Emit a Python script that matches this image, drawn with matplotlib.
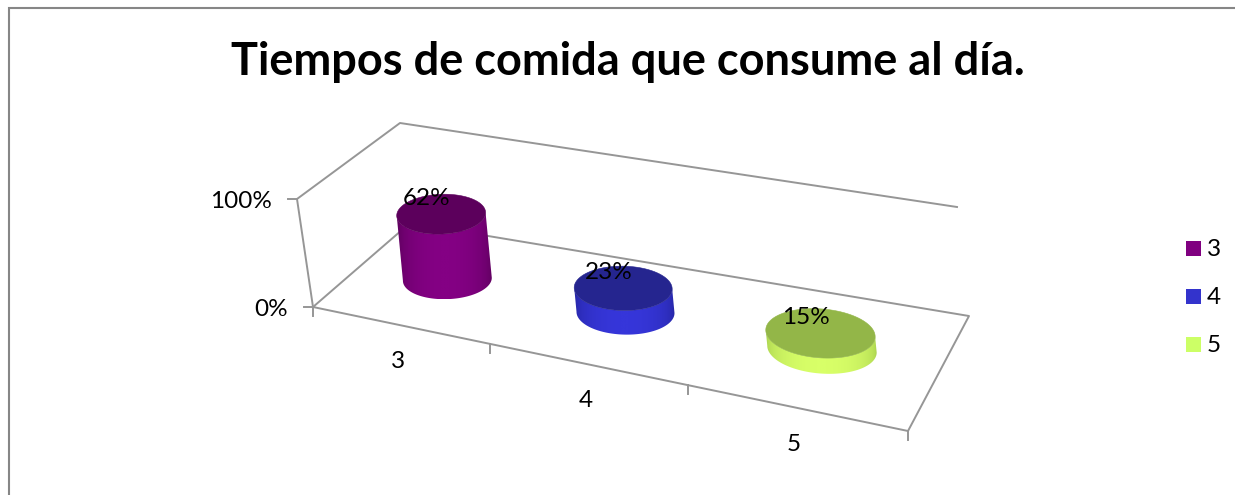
import numpy as np
import matplotlib
matplotlib.use('Agg')
import matplotlib.pyplot as plt
from matplotlib.colors import LinearSegmentedColormap
from matplotlib.patches import Polygon, Rectangle

plt.rcParams['font.family'] = ['Lato', 'DejaVu Sans']

title = 'Tiempos de comida que consume al día.'
categories = ['3', '4', '5']
values = [62, 23, 15]
y_ticks = [0, 100]

side_colors = ['#840084', '#3636da', '#d8ff68']
edge_colors = ['#560056', '#23239a', '#a4cc4c']
top_colors = ['#5c005c', '#25258f', '#93b648']
legend_colors = ['#800080', '#3333cc', '#ccff66']
grey = '#969696'

# floor corners on screen: front-left, front-right, back-right, back-left
floor_px = np.array([[313, 307], [908, 431], [969, 316], [410, 223]], dtype=float)
# screen vector of a 100% rise at the same four corners
rise_px = np.array([[-16, -108], [-4, -112], [-12, -109], [-10, -100]], dtype=float)
# rise of the cylinders, they sit mid depth where the lean is small
bar_rise = np.array([-10, -105])

# spots along the category axis, the perspective pushes them off the even spacing
tick_pos = [0, 1.04, 2.04, 3]
label_pos = [0.52, 1.54, 2.52]
bar_pos = [0.52, 1.52, 2.48]


def floor_matrix():
    src = [(0, 0), (3, 0), (3, 1), (0, 1)]
    rows = []
    rhs = []
    for (u, v), (x, y) in zip(src, floor_px):
        rows.append([u, v, 1, 0, 0, 0, -u * x, -v * x])
        rows.append([0, 0, 0, u, v, 1, -u * y, -v * y])
        rhs += [x, y]
    h = np.linalg.solve(np.array(rows), np.array(rhs))
    return np.append(h, 1).reshape(3, 3)


H = floor_matrix()


def floor_xy(cat, depth):
    cat = np.asarray(cat, dtype=float)
    depth = np.asarray(depth, dtype=float)
    w = H[2, 0] * cat + H[2, 1] * depth + H[2, 2]
    x = (H[0, 0] * cat + H[0, 1] * depth + H[0, 2]) / w
    y = (H[1, 0] * cat + H[1, 1] * depth + H[1, 2]) / w
    return x, y


def project(cat, depth, pct=0):
    # category position, depth 0-1 and percentage height to screen pixels
    x, y = floor_xy(cat, depth)
    cat = np.asarray(cat, dtype=float)
    depth = np.asarray(depth, dtype=float)
    s = cat / 3
    rx = (1 - s) * (1 - depth) * rise_px[0, 0] + s * (1 - depth) * rise_px[1, 0] \
        + s * depth * rise_px[2, 0] + (1 - s) * depth * rise_px[3, 0]
    ry = (1 - s) * (1 - depth) * rise_px[0, 1] + s * (1 - depth) * rise_px[1, 1] \
        + s * depth * rise_px[2, 1] + (1 - s) * depth * rise_px[3, 1]
    return x + rx * np.asarray(pct) / 100, y + ry * np.asarray(pct) / 100


def cylinder(ax, pos, pct, side, edge, top):
    t = np.linspace(0, 2 * np.pi, 361)
    bx, by = floor_xy(pos + 0.24 * np.cos(t), 0.5 + 0.21 * np.sin(t))
    tx = bx + bar_rise[0] * pct / 100
    ty = by + bar_rise[1] * pct / 100

    # wall outline: front arc of the base, back along the front arc of the top
    i_left = np.argmin(bx[:-1])
    i_right = np.argmax(bx[:-1])
    idx = [(i_left + k) % 360 for k in range((i_right - i_left) % 360 + 1)]
    wall = np.vstack([np.column_stack([bx[idx], by[idx]]),
                      np.column_stack([tx[idx], ty[idx]])[::-1]])
    outline = Polygon(wall, closed=True, fc='none', ec='none', transform=ax.transData)
    ax.add_patch(outline)

    # horizontal shading on the wall, dark towards both sides
    left = min(bx.min(), tx.min())
    right = max(bx.max(), tx.max())
    s = np.linspace(-1, 1, 256)
    cmap = LinearSegmentedColormap.from_list('wall', [edge, side])
    shading = cmap((1 - s ** 2) ** 0.45)[np.newaxis, :, :]
    img = ax.imshow(shading, extent=(left, right, by.max(), ty.min()), aspect='auto',
                    interpolation='bilinear', zorder=3)
    img.set_clip_path(outline)

    ax.add_patch(Polygon(np.column_stack([tx, ty]), closed=True, fc=top, ec=top, lw=0.4, zorder=4))
    cx, cy = floor_xy(pos, 0.5)
    cx = cx + bar_rise[0] * pct / 100
    cy = cy + bar_rise[1] * pct / 100
    ax.text(cx - 14, cy - 15, f'{pct}%', fontsize=17.5, color='black', ha='center', va='center', zorder=5)


fig = plt.figure(figsize=(12.35, 4.95), dpi=100)
ax = fig.add_axes([0, 0, 1, 1])
ax.set_xlim(0, 1235)
ax.set_ylim(495, 0)
ax.axis('off')

# chart border, open at the bottom and right
ax.plot([9, 9, 1235], [495, 8, 8], color='#868686', lw=1.5, solid_joinstyle='miter')

ax.text(628, 62, title, fontsize=32.5, fontweight='bold', color='black', ha='center', va='center')

# floor and walls
n = len(categories)
fx, fy = project([0, n, n, 0, 0], [0, 0, 1, 1, 0])
ax.plot(fx, fy, color=grey, lw=1.4, zorder=1)
wx, wy = project([0, 0, 0, n], [0, 0, 1, 1], [0, 100, 100, 100])
ax.plot(wx, wy, color=grey, lw=1.4, zorder=1)

# value axis ticks and labels
for v in y_ticks:
    x, y = project(0, 0, v)
    ax.plot([x - 9, x], [y, y], color=grey, lw=1.4, zorder=1)
    ax.text(x - 25, y + 3, f'{v}%', fontsize=17.5, ha='right', va='center')

# category axis ticks and labels
for p in tick_pos:
    x, y = project(p, 0)
    ax.plot([x, x], [y, y + 9], color=grey, lw=1.4, zorder=1)
for p, c in zip(label_pos, categories):
    x, y = project(p, 0)
    ax.text(x, y + 37, c, fontsize=17.5, ha='center', va='center')

for i, v in enumerate(values):
    cylinder(ax, bar_pos[i], v, side_colors[i], edge_colors[i], top_colors[i])

# legend
for i, c in enumerate(categories):
    ly = 248 + 48 * i
    ax.add_patch(Rectangle((1186, ly - 7.5), 15, 15, fc=legend_colors[i], ec='none'))
    ax.text(1207, ly + 1.5, c, fontsize=17.5, ha='left', va='center')

ax.set_xlim(0, 1235)
ax.set_ylim(495, 0)
fig.savefig('out.png', dpi=100)
